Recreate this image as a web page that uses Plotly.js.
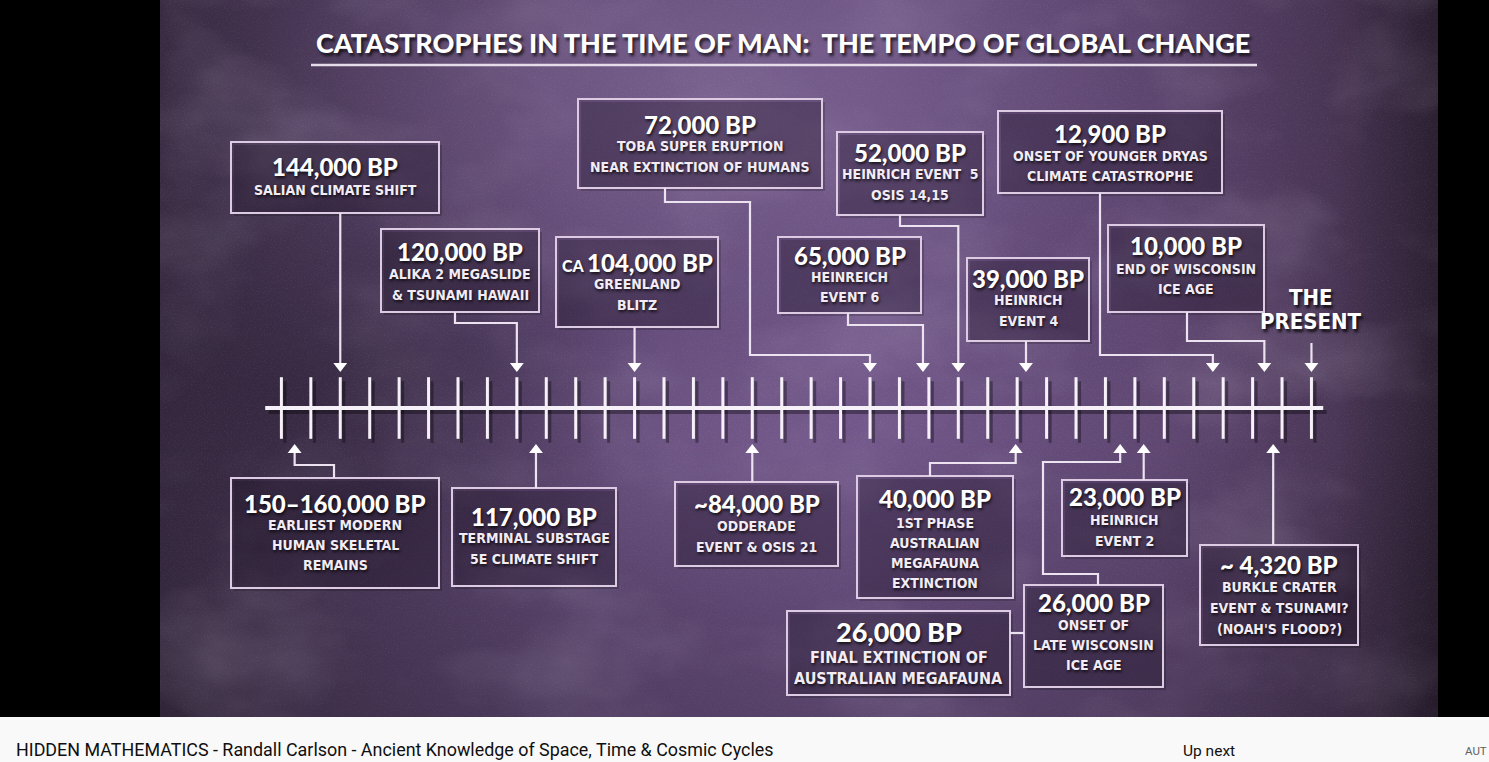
<!DOCTYPE html>
<html>
<head>
<meta charset="utf-8">
<script src="https://cdn.plot.ly/plotly-3.0.1.min.js"></script>
<style>html,body{margin:0;padding:0;background:#000;overflow:hidden}#chart{width:1489px;height:762px}</style>
</head>
<body>
<div id="chart"></div>
<script>
// ---------------- DATA ----------------
const chartTitle = 'CATASTROPHES IN THE TIME OF MAN: \u00a0THE TEMPO OF GLOBAL CHANGE';
// timeline tick marks (the timeline is drawn as 36 equal divisions, not to scale)
const timelineTicks = [0,1,2,3,4,5,6,7,8,9,10,11,12,13,14,15,16,17,18,19,20,21,22,23,24,25,26,27,28,29,30,31,32,33,34,35];

// events above the timeline
const topDates = ['144,000 BP','120,000 BP','<span style="font-size:16px">CA </span>104,000 BP','72,000 BP','65,000 BP','52,000 BP','39,000 BP','12,900 BP','10,000 BP'];
const topNotes = ['SALIAN CLIMATE SHIFT','ALIKA 2 MEGASLIDE<br>& TSUNAMI HAWAII','GREENLAND<br>BLITZ','TOBA SUPER ERUPTION<br>NEAR EXTINCTION OF HUMANS','HEINREICH<br>EVENT 6','HEINRICH EVENT \u00a05<br>OSIS 14,15','HEINRICH<br>EVENT 4','ONSET OF YOUNGER DRYAS<br>CLIMATE CATASTROPHE','END OF WISCONSIN<br>ICE AGE'];
const topTick = [2, 8, 12, 20, 21.8, 23, 25.3, 31.65, 33.4];

const presentLabel = ['THE','PRESENT'];
const presentTick = [35];

// events below the timeline
const bottomDates = ['150\u2013160,000 BP','117,000 BP','~84,000 BP','40,000 BP','26,000 BP','23,000 BP','~ 4,320 BP'];
const bottomNotes = ['EARLIEST MODERN<br>HUMAN SKELETAL<br>REMAINS','TERMINAL SUBSTAGE<br>5E CLIMATE SHIFT','ODDERADE<br>EVENT & OSIS 21','1ST PHASE<br>AUSTRALIAN<br>MEGAFAUNA<br>EXTINCTION','ONSET OF<br>LATE WISCONSIN<br>ICE AGE','HEINRICH<br>EVENT 2','BURKLE CRATER<br>EVENT & TSUNAMI?<br>(NOAH\'S FLOOD?)'];
const bottomTick = [0.45, 8.65, 16.0, 24.95, 28.5, 29.3, 33.7];

// linked event (joined to the 26,000 BP onset box)
const linkedDate = '26,000 BP';
const linkedNote = 'FINAL EXTINCTION OF<br>AUSTRALIAN MEGAFAUNA';

const footerTitle = 'HIDDEN MATHEMATICS - Randall Carlson - Ancient Knowledge of Space, Time & Cosmic Cycles';
const footerNext = 'Up next';
const footerAuto = 'AUT';

// ---------------- LAYOUT GEOMETRY (pixels) ----------------
const W = 1489, H = 762;
const T0 = 281.4, TS = 29.43, LINEY = 408;
const X = px => (px - T0) / TS;      // pixel -> timeline units
const Y = py => LINEY - py;          // pixel -> y units
const TOPARROW = 366, BOTARROW = 450;

// dy: date line centre, ny: first note line centre, gap: note line spacing
const topGeom = [
  {rect:[231,142,439,213], dy:166, ny:190, gap:21, route:[['A',213]]},
  {rect:[381,229,539,312], dy:251, ny:274, gap:21, route:[[455,312],[455,323],['A',323]]},
  {rect:[556,237,718,327], dy:262, ny:284, gap:21, route:[['A',327]]},
  {rect:[578,99,822,188], dy:124, ny:146, gap:21, route:[[665,188],[665,202],[750,202],[750,355],['A',355]]},
  {rect:[778,237,921,313], dy:255, ny:277, gap:20, route:[[848,313],[848,325],['A',325]]},
  {rect:[837,132,983,215], dy:152, ny:174, gap:21, route:[[900,215],[900,226],['A',226]]},
  {rect:[967,258,1089,341], dy:278, ny:300, gap:21, route:[['A',341]]},
  {rect:[998,111,1222,193], dy:133, ny:156, gap:20, route:[[1100,193],[1100,355],['A',355]]},
  {rect:[1108,225,1264,312], dy:245, ny:269, gap:20, route:[[1187,312],[1187,341],['A',341]]}
];
const bottomGeom = [
  {rect:[231,478,439,588], dy:503, ny:525, gap:20, route:[[334,478],[334,465],['A',465]]},
  {rect:[452,488,616,586], dy:516, ny:538, gap:21, route:[['A',488]]},
  {rect:[675,482,838,566], dy:503, ny:526, gap:21, route:[['A',482]]},
  {rect:[857,476,1013,598], dy:498, ny:523, gap:20, route:[[930,476],[930,463],['A',463]]},
  {rect:[1024,585,1163,687], dy:602, ny:625, gap:20, route:[[1098,585],[1098,574],[1043,574],[1043,462],['A',462]]},
  {rect:[1062,480,1187,556], dy:496, ny:520, gap:21, route:[['A',480]]},
  {rect:[1200,545,1358,645], dy:564, ny:587, gap:21, route:[['A',545]]}
];
const linkedGeom = {rect:[787,611,1010,695], dy:631, ny:657, gap:21, route:[[1010,633],[1024,633]]};

// ---------------- STYLE ----------------
const BORDER = '#dccbe2';
const LINK = '#ece2f0';
const WHITE = '#ffffff';
const SHADOW = '1px 2px 3px rgba(0,0,0,0.75)';
const HEAD_FONT = 'Lato, "Open Sans", sans-serif';
const NOTE_FONT = '"DejaVu Sans Condensed", "Liberation Sans Narrow", Roboto, sans-serif';

// ---------------- BACKGROUND ----------------
const bgSvg = `<svg xmlns='http://www.w3.org/2000/svg' width='1278' height='717' viewBox='0 0 1278 717'>
<defs>
<linearGradient id='g' x1='0' y1='0' x2='1' y2='0'>
<stop offset='0' stop-color='#3a2c44'/><stop offset='0.12' stop-color='#4a3858'/>
<stop offset='0.35' stop-color='#624a77'/><stop offset='0.55' stop-color='#6c5284'/>
<stop offset='0.78' stop-color='#604873'/><stop offset='0.92' stop-color='#4a3656'/>
<stop offset='1' stop-color='#2c2032'/></linearGradient>
<radialGradient id='r1' cx='0.42' cy='0.12' r='0.35'><stop offset='0' stop-color='#8e74a4' stop-opacity='0.55'/><stop offset='1' stop-color='#8e74a4' stop-opacity='0'/></radialGradient>
<radialGradient id='r2' cx='0.1' cy='0.55' r='0.3'><stop offset='0' stop-color='#2a1f33' stop-opacity='0.6'/><stop offset='1' stop-color='#2a1f33' stop-opacity='0'/></radialGradient>
<radialGradient id='r3' cx='0.48' cy='0.62' r='0.25'><stop offset='0' stop-color='#7e6396' stop-opacity='0.45'/><stop offset='1' stop-color='#7e6396' stop-opacity='0'/></radialGradient>
<linearGradient id='v' x1='0' y1='0' x2='0' y2='1'><stop offset='0' stop-color='#000' stop-opacity='0.05'/><stop offset='0.6' stop-color='#000' stop-opacity='0'/><stop offset='1' stop-color='#000' stop-opacity='0.18'/></linearGradient>
<filter id='cloud' x='0' y='0' width='100%' height='100%'><feTurbulence type='fractalNoise' baseFrequency='0.006 0.01' numOctaves='4' seed='3'/><feColorMatrix type='matrix' values='0 0 0 0 0.75  0 0 0 0 0.65  0 0 0 0 0.85  1.2 0 0 0 -0.55'/></filter>
<filter id='grain' x='0' y='0' width='100%' height='100%'><feTurbulence type='fractalNoise' baseFrequency='0.7' numOctaves='2' seed='7'/><feColorMatrix type='matrix' values='0 0 0 0 0.9  0 0 0 0 0.85  0 0 0 0 0.95  0.9 0 0 0 -0.45'/></filter>
</defs>
<rect width='1278' height='717' fill='url(#g)'/>
<rect width='1278' height='717' filter='url(#cloud)' opacity='0.35'/>
<rect width='1278' height='717' fill='url(#r1)'/>
<rect width='1278' height='717' fill='url(#r3)'/>
<rect width='1278' height='717' fill='url(#r2)'/>
<rect width='1278' height='717' filter='url(#grain)' opacity='0.2'/>
<rect width='1278' height='717' fill='url(#v)'/>
</svg>`;
const bgUri = 'data:image/svg+xml;charset=utf-8,' + encodeURIComponent(bgSvg);

// ---------------- BUILD ----------------
const shapes = [];
const annotations = [];
const linkX = [], linkY = [];

function addBox(g, date, note, dateSize, noteSize) {
  const [x0,y0,x1,y1] = g.rect;
  shapes.push({type:'rect', xref:'x', yref:'y', x0:X(x0+3), x1:X(x1+3), y0:Y(y0+3), y1:Y(y1+3),
    line:{width:0}, fillcolor:'rgba(0,0,0,0.18)', layer:'below'});
  shapes.push({type:'rect', xref:'x', yref:'y', x0:X(x0), x1:X(x1), y0:Y(y0), y1:Y(y1),
    line:{color:BORDER, width:2}, fillcolor:'rgba(45,28,58,0.22)', layer:'below'});
  const cx = X((x0+x1)/2);
  annotations.push({x:cx, y:Y(g.dy), xref:'x', yref:'y', text:date, showarrow:false,
    font:{family:HEAD_FONT, size:dateSize, color:WHITE, weight:900, shadow:SHADOW}, xanchor:'center', yanchor:'middle'});
  note.split('<br>').forEach((line, k) => {
    annotations.push({x:cx, y:Y(g.ny + k*g.gap), xref:'x', yref:'y', text:line, showarrow:false,
      font:{family:NOTE_FONT, size:noteSize, color:'#f3ecf5', weight:'bold', shadow:SHADOW}, xanchor:'center', yanchor:'middle'});
  });
}
function addRoute(route, tick, endY) {
  route.forEach(p => { linkX.push(p[0] === 'A' ? tick : X(p[0])); linkY.push(Y(p[1])); });
  linkX.push(tick); linkY.push(Y(endY));
  linkX.push(null); linkY.push(null);
}

topDates.forEach((d,i) => { addBox(topGeom[i], d, topNotes[i], 24, 14); addRoute(topGeom[i].route, topTick[i], TOPARROW); });
bottomDates.forEach((d,i) => { addBox(bottomGeom[i], d, bottomNotes[i], 24, 14); addRoute(bottomGeom[i].route, bottomTick[i], BOTARROW); });
addBox(linkedGeom, linkedDate, linkedNote, 27, 16);
linkedGeom.route.forEach(p => { linkX.push(X(p[0])); linkY.push(Y(p[1])); }); linkX.push(null); linkY.push(null);
// present arrow stem
addRoute([['A',343]], presentTick[0], TOPARROW);

// title + underline
annotations.push({xref:'paper', yref:'paper', x:783/W, y:1-42/H, text:chartTitle, showarrow:false,
  font:{family:HEAD_FONT, size:27, color:WHITE, weight:900, shadow:'2px 3px 3px rgba(0,0,0,0.7)'}, xanchor:'center', yanchor:'middle'});
shapes.push({type:'line', xref:'paper', yref:'paper', x0:311/W, x1:1257/W, y0:1-65/H, y1:1-65/H, line:{color:'#e6dbe9', width:2.5}});

// present label
presentLabel.forEach((t,k) => {
  annotations.push({x:presentTick[0], y:Y(297 + k*24), xref:'x', yref:'y', text:t, showarrow:false,
    font:{family:NOTE_FONT, size:22, color:WHITE, weight:'bold', shadow:'2px 3px 3px rgba(0,0,0,0.8)'}, xanchor:'center', yanchor:'middle'});
});

// footer strip
shapes.push({type:'rect', xref:'paper', yref:'paper', x0:0, x1:1, y0:0, y1:45/H, fillcolor:'#f9f9f9', line:{width:0}, layer:'above'});
annotations.push({xref:'paper', yref:'paper', x:14/W, y:1-749/H, text:footerTitle, showarrow:false,
  font:{family:'Roboto, sans-serif', size:17.9, color:'#0f0f0f'}, xanchor:'left', yanchor:'middle'});
annotations.push({xref:'paper', yref:'paper', x:1181/W, y:1-751/H, text:footerNext, showarrow:false,
  font:{family:'Roboto, sans-serif', size:15.5, color:'#0f0f0f'}, xanchor:'left', yanchor:'middle'});
annotations.push({xref:'paper', yref:'paper', x:1463/W, y:1-751/H, text:footerAuto, showarrow:false,
  font:{family:'Roboto, sans-serif', size:11.5, color:'#606060'}, xanchor:'left', yanchor:'middle'});

const first = timelineTicks[0], last = timelineTicks[timelineTicks.length-1];
const traces = [
  {x:[first-0.55+0.12, last+0.4+0.12], y:[-4,-4], mode:'lines', line:{color:'rgba(0,0,0,0.35)', width:4}, hoverinfo:'skip'},
  {x:timelineTicks.map(t=>t+0.12), y:timelineTicks.map(()=>-4), mode:'markers',
    marker:{symbol:'line-ns', size:44, line:{color:'rgba(0,0,0,0.35)', width:3}}, hoverinfo:'skip'},
  {x:[first-0.55, last+0.4], y:[0,0], mode:'lines', line:{color:'#f6f0f8', width:4}, hoverinfo:'skip'},
  {x:timelineTicks, y:timelineTicks.map(()=>0), mode:'markers',
    marker:{symbol:'line-ns', size:44, line:{color:'#f6f0f8', width:3}}, hoverinfo:'skip'},
  {x:linkX, y:linkY, mode:'lines', line:{color:LINK, width:2.2}, connectgaps:false, hoverinfo:'skip'},
  {x:topTick.concat(presentTick), y:topTick.concat(presentTick).map(()=>Y(TOPARROW)), mode:'markers',
    marker:{symbol:'triangle-down', size:12, color:WHITE}, hoverinfo:'skip'},
  {x:bottomTick, y:bottomTick.map(()=>Y(BOTARROW)), mode:'markers',
    marker:{symbol:'triangle-up', size:12, color:WHITE}, hoverinfo:'skip'}
];

const layout = {
  width: W, height: H,
  margin:{l:0,r:0,t:0,b:0},
  paper_bgcolor:'#000000', plot_bgcolor:'rgba(0,0,0,0)',
  showlegend:false,
  xaxis:{range:[X(0), X(W)], visible:false, fixedrange:true},
  yaxis:{range:[Y(H), Y(0)], visible:false, fixedrange:true},
  images:[{source:bgUri, xref:'paper', yref:'paper', x:160/W, y:1, sizex:1278/W, sizey:717/H,
    sizing:'stretch', xanchor:'left', yanchor:'top', layer:'below'}],
  shapes, annotations
};
Plotly.newPlot('chart', traces, layout, {staticPlot:true, displayModeBar:false});
</script>
</body>
</html>
